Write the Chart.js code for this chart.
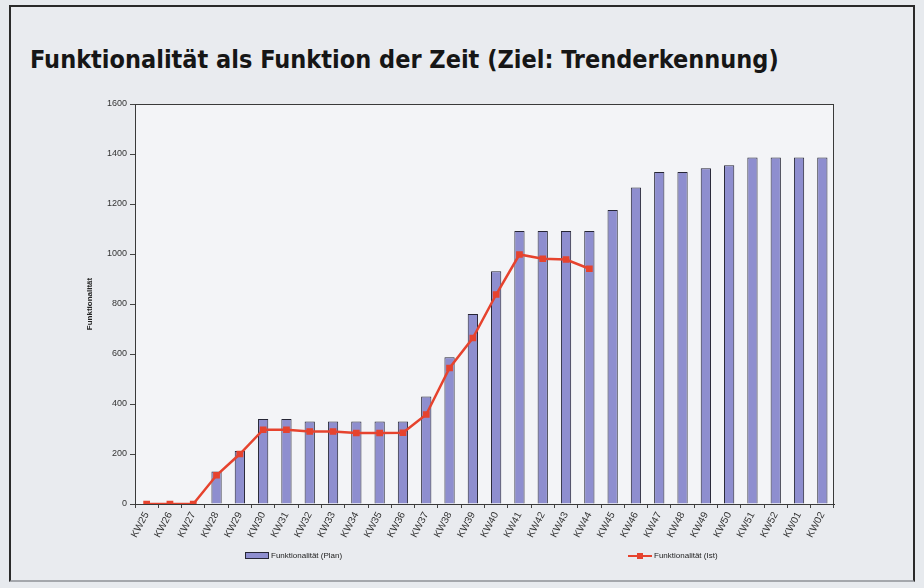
<!DOCTYPE html>
<html>
<head>
<meta charset="utf-8">
<script src="https://cdn.jsdelivr.net/npm/chart.js@4.4.1/dist/chart.umd.min.js"></script>
<style>
  html, body { margin: 0; padding: 0; width: 924px; height: 588px; overflow: hidden; background: #e7eaee; }
  #frame { position: absolute; left: 9px; top: 5px; width: 906px; height: 577px; box-sizing: border-box;
           border: 2px solid #2a2a2a; border-bottom: 2px solid #a4a7ac; background: #e9ebef; }
  #title { position: absolute; left: 30px; top: 45px; margin: 0; font-family: "Liberation Sans Narrow", "DejaVu Sans Condensed", "Liberation Sans", sans-serif;
           font-weight: bold; font-size: 25px; color: #161616; white-space: nowrap; letter-spacing: 0px; }
  #wrap { position: absolute; left: 0; top: 0; width: 924px; height: 588px; }
  .lg { position: absolute; top: 550px; font-family: "Liberation Sans", Arial, sans-serif; font-size: 8px; color: #222; white-space: nowrap; line-height: 12px; }
  .lg span.sw { display: inline-block; vertical-align: middle; margin-right: 2px; position: relative; }
</style>
</head>
<body>
<div id="frame"></div>
<h1 id="title">Funktionalität als Funktion der Zeit (Ziel: Trenderkennung)</h1>
<div id="wrap"><canvas id="c" width="924" height="588"></canvas></div>
<div id="legend"></div>
<script>
// ---- data ----
const weeks = ["KW25","KW26","KW27","KW28","KW29","KW30","KW31","KW32","KW33","KW34","KW35","KW36","KW37","KW38","KW39","KW40","KW41","KW42","KW43","KW44","KW45","KW46","KW47","KW48","KW49","KW50","KW51","KW52","KW01","KW02"];
const planValues = [0,0,0,130,212,340,340,330,330,330,330,330,430,587,760,931,1092,1092,1092,1092,1176,1266,1328,1328,1343,1355,1386,1386,1386,1386];
const istValues  = [0,0,0,115,200,297,297,290,290,284,284,285,358,544,664,838,998,981,978,941];
const yTicks = [0,200,400,600,800,1000,1200,1400,1600];
const planLabel = "Funktionalität (Plan)";
const istLabel = "Funktionalität (Ist)";
const yTitle = "Funktionalität";

const barFill = "#8e8ecf";
const barEdge = "#262636";
const lineColor = "#e6432e";

const plotBg = {
  id: "plotBg",
  beforeDatasetsDraw(chart) {
    const {ctx, chartArea: a} = chart;
    ctx.save();
    ctx.fillStyle = "#f3f4f7";
    ctx.fillRect(a.left, a.top, a.right - a.left, a.bottom - a.top);
    ctx.restore();
  },
  afterDraw(chart) {
    const {ctx, chartArea: a} = chart;
    ctx.save();
    ctx.strokeStyle = "#3a3a3a";
    ctx.lineWidth = 1;
    ctx.strokeRect(a.left + 0.5, a.top + 0.5, a.right - a.left - 1, a.bottom - a.top);
    ctx.restore();
  }
};

const chart = new Chart(document.getElementById("c"), {
  data: {
    labels: weeks,
    datasets: [
      { type: "bar", label: planLabel, data: planValues, backgroundColor: barFill, borderColor: barEdge,
        borderWidth: 1, barPercentage: 0.44, categoryPercentage: 1, order: 1 },
      { type: "line", label: istLabel, data: istValues, borderColor: lineColor, backgroundColor: lineColor,
        borderWidth: 2.5, pointStyle: "rect", pointRadius: 3, pointBackgroundColor: lineColor,
        pointBorderColor: lineColor, tension: 0, order: 0 }
    ]
  },
  options: {
    responsive: false,
    animation: false,
    layout: { padding: { left: 80, right: 90, top: 104, bottom: 44 } },
    plugins: { legend: { display: false }, title: { display: false }, tooltip: { enabled: false } },
    scales: {
      x: {
        afterFit(s) { s.height = 40; },
        grid: { display: true, drawOnChartArea: false, offset: true, tickLength: 4, color: "#444", tickColor: "#444" },
        border: { display: true, color: "#333" },
        ticks: { minRotation: 62, maxRotation: 62, autoSkip: false, color: "#333", padding: 2,
                 font: { family: "Liberation Sans, Arial, sans-serif", size: 10 } }
      },
      y: {
        min: 0, max: 1600,
        afterFit(s) { s.width = 55; },
        afterBuildTicks(s) { s.ticks = yTicks.map(v => ({ value: v })); },
        grid: { display: true, drawOnChartArea: false, tickLength: 5, color: "#444", tickColor: "#444" },
        border: { display: true, color: "#333" },
        ticks: { color: "#333", padding: 3, callback: v => String(v),
                 font: { family: "Liberation Sans, Arial, sans-serif", size: 9 } },
        title: { display: true, text: yTitle, color: "#222", padding: { top: 5, bottom: 0 },
                 font: { family: "Liberation Sans, Arial, sans-serif", size: 8, weight: "bold" } }
      }
    }
  },
  plugins: [plotBg]
});

// HTML legend built from the chart's datasets
const lg = document.getElementById("legend");
const pos = [245, 628];
chart.data.datasets.forEach((ds, i) => {
  const d = document.createElement("div");
  d.className = "lg";
  d.style.left = pos[i] + "px";
  const sw = document.createElement("span");
  sw.className = "sw";
  if (ds.type === "bar") {
    sw.style.width = "22px"; sw.style.height = "5px";
    sw.style.background = ds.backgroundColor; sw.style.border = "1px solid " + ds.borderColor;
  } else {
    sw.style.width = "24px"; sw.style.height = "2px"; sw.style.background = ds.borderColor;
    const m = document.createElement("span");
    m.style.cssText = "position:absolute;left:9px;top:-2px;width:6px;height:6px;background:" + ds.borderColor;
    sw.appendChild(m);
  }
  d.appendChild(sw);
  d.appendChild(document.createTextNode(ds.label));
  lg.appendChild(d);
});
</script>
</body>
</html>
